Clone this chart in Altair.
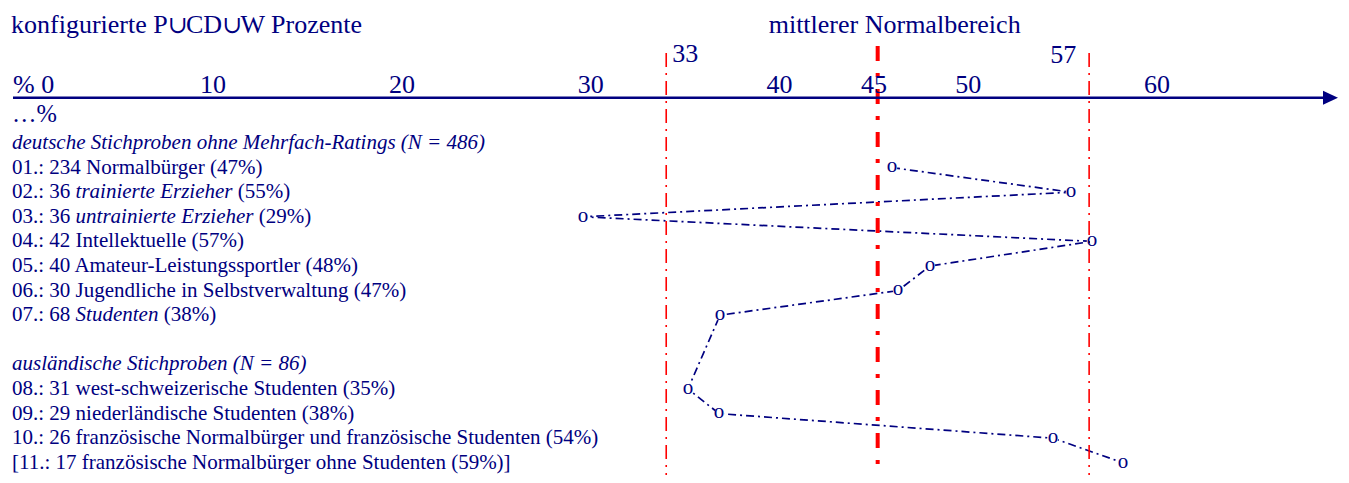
import altair as alt
import pandas as pd

# ---------------- data ----------------
title_parts = ["konfigurierte P", "\u222a", "CD", "\u222a", "W Prozente"]
title_part_kind = ["text", "cup", "text", "cup", "text"]
title_right = "mittlerer Normalbereich"

tick_values = [10, 20, 30, 40, 45, 50, 60]
tick_labels = ["10", "20", "30", "40", "45", "50", "60"]
zero_value = 0
zero_label = "% 0"
unit_label = "\u2026%"

# red reference lines (positions)
thin_ref_values = [34.0, 56.4]
thin_ref_labels = ["33", "57"]
thick_ref_values = [45.2]

# row texts: slot (row index), text, style
seg_slot = [0, 1, 2, 2, 2, 3, 3, 3, 4, 5, 6, 7, 7, 7, 9, 10, 11, 12, 13]
seg_text = [
    "deutsche Stichproben ohne Mehrfach-Ratings (N = 486)",
    "01.: 234 Normalbürger (47%)",
    "02.: 36", "trainierte Erzieher", "(55%)",
    "03.: 36", "untrainierte Erzieher", "(29%)",
    "04.: 42 Intellektuelle (57%)",
    "05.: 40 Amateur-Leistungssportler (48%)",
    "06.: 30 Jugendliche in Selbstverwaltung (47%)",
    "07.: 68", "Studenten", "(38%)",
    "ausländische Stichproben (N = 86)",
    "08.: 31 west-schweizerische Studenten (35%)",
    "09.: 29 niederländische Studenten (38%)",
    "10.: 26 französische Normalbürger und französische Studenten (54%)",
    "[11.: 17 französische Normalbürger ohne Studenten (59%)]",
]
seg_style = ["italic", "normal", "normal", "italic", "normal", "normal", "italic", "normal",
             "normal", "normal", "normal", "normal", "italic", "normal", "italic",
             "normal", "normal", "normal", "normal"]

# plotted points (position, row slot)
point_slot = [1, 2, 3, 4, 5, 6, 7, 10, 11, 12, 13]
point_pos = [45.96, 55.44, 29.59, 56.55, 47.97, 46.28, 36.85, 35.15, 36.80, 54.49, 58.19]

# ---------------- layout ----------------
W, H = 1333, 467
ZERO_PX = 16.3
PX_PER_UNIT = 18.88
ROW0_PX = 135.0
ROW_STEP = 24.6
seg_px = [4, 4, 4, 67.6, 229.8, 4, 67.6, 250.8, 4, 4, 4, 4, 67.6, 155.7, 4, 4, 4, 4, 4]
title_px = [3, 160, 178, 214.5, 232.5]

def px_to_val(p):
    return (p - ZERO_PX) / PX_PER_UNIT

X_DOMAIN = [px_to_val(0), px_to_val(W)]
Y_DOMAIN = [(0 - ROW0_PX) / ROW_STEP, (H - ROW0_PX) / ROW_STEP]

xs = alt.Scale(domain=X_DOMAIN, nice=False, zero=False)
ys = alt.Scale(domain=Y_DOMAIN, nice=False, zero=False, reverse=True)

NAVY = "#000080"
RED = "#ff0000"
SERIF = "Liberation Serif"
CUPFONT = "DejaVu Serif"

# ---------------- frames ----------------
segs = pd.DataFrame({"slot": seg_slot, "text": seg_text, "style": seg_style,
                     "pos": [px_to_val(p) for p in seg_px]})
pts = pd.DataFrame({"order": list(range(len(point_pos))), "pos": point_pos, "slot": point_slot})
ticks = pd.DataFrame({"v": tick_values, "t": tick_labels})
zero = pd.DataFrame({"v": [zero_value], "t": [zero_label]})
thin = pd.DataFrame({"v": thin_ref_values, "t": thin_ref_labels})
thick = pd.DataFrame({"v": thick_ref_values})
axis_df = pd.DataFrame({"a": [px_to_val(5)], "b": [px_to_val(1315)], "tip": [px_to_val(1322.5)]})
title_df = pd.DataFrame({"t": title_parts, "kind": title_part_kind,
                         "pos": [px_to_val(p) for p in title_px]})

X = lambda f: alt.X(f, scale=xs, axis=None)
Y = lambda f: alt.Y(f, scale=ys, axis=None)

# axis line + arrow
axis_line = alt.Chart(axis_df).mark_rule(color=NAVY, strokeWidth=2.6, strokeCap="butt").encode(
    x=X("a:Q"), x2="b:Q", y=alt.value(89.7))
arrow = alt.Chart(axis_df).mark_point(shape="M-1,-0.93L1,0L-1,0.93Z", size=225, filled=True,
                                      color=NAVY, opacity=1, strokeWidth=0).encode(
    x=X("tip:Q"), y=alt.value(89.7))

tick_text = alt.Chart(ticks).mark_text(font=SERIF, fontSize=26, align="center", baseline="alphabetic",
                                       color=NAVY).encode(x=X("v:Q"), y=alt.value(85), text="t:N")
zero_text = alt.Chart(zero).mark_text(font=SERIF, fontSize=26, align="left", baseline="alphabetic",
                                      dx=-11.3, color=NAVY).encode(x=X("v:Q"), y=alt.value(85), text="t:N")
unit_text = alt.Chart(pd.DataFrame({"t": [unit_label]})).mark_text(
    font=SERIF, fontSize=24.5, align="left", baseline="alphabetic", color=NAVY).encode(
    x=alt.value(4), y=alt.value(114), text="t:N")

t_left_text = alt.Chart(title_df).transform_filter("datum.kind == 'text'").mark_text(
    font=SERIF, fontSize=26, align="left", baseline="alphabetic", color=NAVY).encode(
    x=X("pos:Q"), y=alt.value(25), text="t:N")
t_left_cup = alt.Chart(title_df).transform_filter("datum.kind == 'cup'").mark_text(
    font=CUPFONT, fontSize=24, align="left", baseline="alphabetic", color=NAVY).encode(
    x=X("pos:Q"), y=alt.value(25), text="t:N")
t_right = alt.Chart(pd.DataFrame({"t": [title_right], "v": [46.1]})).mark_text(
    font=SERIF, fontSize=26, align="center", baseline="alphabetic", color=NAVY).encode(
    x=X("v:Q"), y=alt.value(25), text="t:N")

# red reference lines
thin_rules = alt.Chart(thin).mark_rule(color=RED, strokeWidth=1.6, strokeDash=[14, 6, 2, 6]).encode(
    x=X("v:Q"), y=alt.value(45), y2=alt.value(H))
thick_rule = alt.Chart(thick).mark_rule(color=RED, strokeWidth=4, strokeDash=[15, 12, 4, 12]).encode(
    x=X("v:Q"), y=alt.value(38), y2=alt.value(H))
lab33 = alt.Chart(thin).transform_filter("datum.t == '33'").mark_text(
    font=SERIF, fontSize=26, align="left", baseline="alphabetic", dx=6, color=NAVY).encode(
    x=X("v:Q"), y=alt.value(54), text="t:N")
lab57 = alt.Chart(thin).transform_filter("datum.t == '57'").mark_text(
    font=SERIF, fontSize=26, align="right", baseline="alphabetic", dx=-13, color=NAVY).encode(
    x=X("v:Q"), y=alt.value(55), text="t:N")

# connecting line, masks and "o" markers
conn = alt.Chart(pts).mark_line(color=NAVY, strokeWidth=1.7, strokeDash=[8, 4, 2, 4]).encode(
    x=X("pos:Q"), y=Y("slot:Q"), order="order:Q")
masks = alt.Chart(pts).mark_point(shape="circle", size=110, filled=True, color="white", opacity=1,
                                  strokeWidth=0).encode(x=X("pos:Q"), y=Y("slot:Q"))
marks_o = alt.Chart(pts).mark_text(text="o", font=SERIF, fontSize=21, align="center",
                                   baseline="alphabetic", dy=4.8, color=NAVY).encode(
    x=X("pos:Q"), y=Y("slot:Q"))

# row texts
base = alt.Chart(segs)
rows_normal = base.transform_filter("datum.style == 'normal'").mark_text(
    font=SERIF, fontSize=21, align="left", baseline="middle", color=NAVY).encode(
    x=X("pos:Q"), y=Y("slot:Q"), text="text:N")
rows_italic = base.transform_filter("datum.style == 'italic'").mark_text(
    font=SERIF, fontSize=21, fontStyle="italic", align="left", baseline="middle", color=NAVY).encode(
    x=X("pos:Q"), y=Y("slot:Q"), text="text:N")

chart = alt.layer(
    conn, masks, thin_rules, thick_rule, axis_line, arrow, marks_o,
    tick_text, zero_text, unit_text, t_left_text, t_left_cup, t_right, lab33, lab57,
    rows_normal, rows_italic,
).properties(
    width=W, height=H, autosize=alt.AutoSizeParams(type="none"), padding=0
).configure_view(strokeWidth=0)

chart.save("out.html", embed_options={"renderer": "svg", "actions": False})
